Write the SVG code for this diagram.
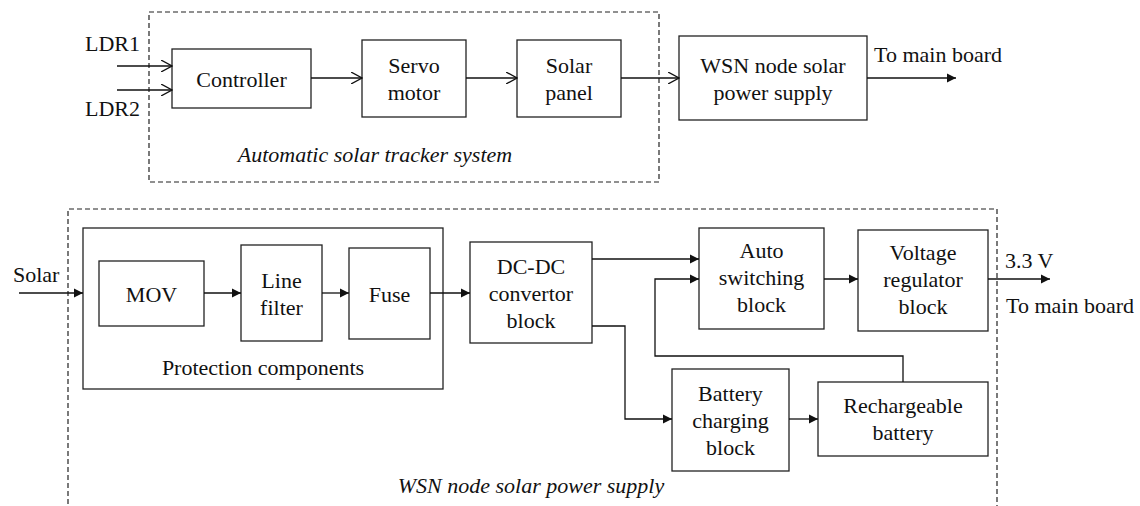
<svg xmlns="http://www.w3.org/2000/svg" width="1140" height="506" viewBox="0 0 1140 506">
<style>
.box{fill:#fff;stroke:#222;stroke-width:1.3}
.grp{fill:none;stroke:#222;stroke-width:1.3}
.dash{fill:none;stroke:#222;stroke-width:1.2;stroke-dasharray:5 3}
.ln{fill:none;stroke:#111;stroke-width:1.3}
.op{marker-end:url(#open)}
.fl{marker-end:url(#fill)}
text{font-family:"Liberation Serif","Times New Roman",serif;font-size:22px;fill:#111;text-anchor:middle}
.l{text-anchor:start}
.it{font-style:italic}
</style>
<defs>
<marker id="open" viewBox="0 0 12 12" refX="11" refY="6" markerWidth="12" markerHeight="12" markerUnits="userSpaceOnUse" orient="auto">
<path d="M0,0 L11,6 L0,12" fill="none" stroke="#111" stroke-width="1.3"/>
</marker>
<marker id="fill" viewBox="0 0 10 10" refX="9" refY="5" markerWidth="10" markerHeight="10" markerUnits="userSpaceOnUse" orient="auto">
<path d="M0,0.5 L9,5 L0,9.5 Z" fill="#111"/>
</marker>
</defs>

<g id="tracker-system">
<rect class="dash" x="149" y="12" width="510" height="170"/>
<text class="it" x="375" y="162">Automatic solar tracker system</text>
</g>
<g id="power-supply-system">
<path class="dash" d="M68,520 L68,209 L997,209 L997,520"/>
<text class="it" x="531" y="493">WSN node solar power supply</text>
</g>

<g id="ldr-labels">
<text class="l" x="85" y="51">LDR1</text>
<text class="l" x="85" y="116">LDR2</text>
</g>
<g id="controller"><rect class="box" x="172" y="49" width="139" height="59"/><text x="241.5" y="87">Controller</text></g>
<g id="servo"><rect class="box" x="362" y="40" width="104" height="77"/><text x="414" y="73">Servo</text><text x="414" y="100">motor</text></g>
<g id="solar-panel"><rect class="box" x="517" y="40" width="104" height="77"/><text x="569" y="73">Solar</text><text x="569" y="100">panel</text></g>
<g id="wsn-supply"><rect class="box" x="679" y="36" width="188" height="84"/><text x="773" y="73">WSN node solar</text><text x="773" y="100">power supply</text></g>
<g id="out-top"><text class="l" x="874" y="62">To main board</text></g>

<g id="protection"><rect class="grp" x="83" y="228" width="360" height="161"/><text x="263" y="375">Protection components</text></g>
<g id="mov"><rect class="box" x="99" y="261" width="105" height="65"/><text x="151.5" y="302">MOV</text></g>
<g id="line-filter"><rect class="box" x="241" y="245" width="81" height="96"/><text x="281.5" y="288">Line</text><text x="281.5" y="315">filter</text></g>
<g id="fuse"><rect class="box" x="349" y="248" width="81" height="91"/><text x="389.5" y="302">Fuse</text></g>
<g id="dcdc"><rect class="box" x="470" y="242" width="122" height="101"/><text x="531" y="274">DC-DC</text><text x="531" y="301">convertor</text><text x="531" y="328">block</text></g>
<g id="auto-switch"><rect class="box" x="699" y="228" width="125" height="101"/><text x="761.5" y="258">Auto</text><text x="761.5" y="285">switching</text><text x="761.5" y="312">block</text></g>
<g id="vreg"><rect class="box" x="858" y="230" width="130" height="101"/><text x="923" y="259.5">Voltage</text><text x="923" y="286.5">regulator</text><text x="923" y="313.5">block</text></g>
<g id="charging"><rect class="box" x="672" y="369" width="117" height="102"/><text x="730.5" y="401">Battery</text><text x="730.5" y="428">charging</text><text x="730.5" y="455">block</text></g>
<g id="battery"><rect class="box" x="818" y="382" width="170" height="74"/><text x="903" y="413">Rechargeable</text><text x="903" y="440">battery</text></g>
<g id="solar-label"><text class="l" x="13" y="282">Solar</text></g>
<g id="out-bottom"><text class="l" x="1005" y="268">3.3 V</text><text class="l" x="1006" y="313">To main board</text></g>

<g id="connectors">
<line class="ln op" x1="117" y1="66" x2="172" y2="66"/>
<line class="ln op" x1="117" y1="90" x2="172" y2="90"/>
<line class="ln op" x1="311" y1="78" x2="362" y2="78"/>
<line class="ln op" x1="466" y1="78" x2="517" y2="78"/>
<line class="ln op" x1="621" y1="78" x2="679" y2="78"/>
<line class="ln fl" x1="867" y1="78" x2="956" y2="78"/>
<line class="ln fl" x1="19" y1="293" x2="83" y2="293"/>
<line class="ln fl" x1="204" y1="293" x2="241" y2="293"/>
<line class="ln fl" x1="322" y1="293" x2="349" y2="293"/>
<line class="ln fl" x1="430" y1="293" x2="470" y2="293"/>
<line class="ln fl" x1="592" y1="259" x2="699" y2="259"/>
<polyline class="ln fl" points="903,382 903,356 655,356 655,279 699,279"/>
<polyline class="ln fl" points="592,326 625,326 625,419 672,419"/>
<line class="ln fl" x1="789" y1="419" x2="818" y2="419"/>
<line class="ln fl" x1="824" y1="279" x2="858" y2="279"/>
<line class="ln fl" x1="988" y1="279" x2="1050" y2="279"/>
</g>
</svg>
